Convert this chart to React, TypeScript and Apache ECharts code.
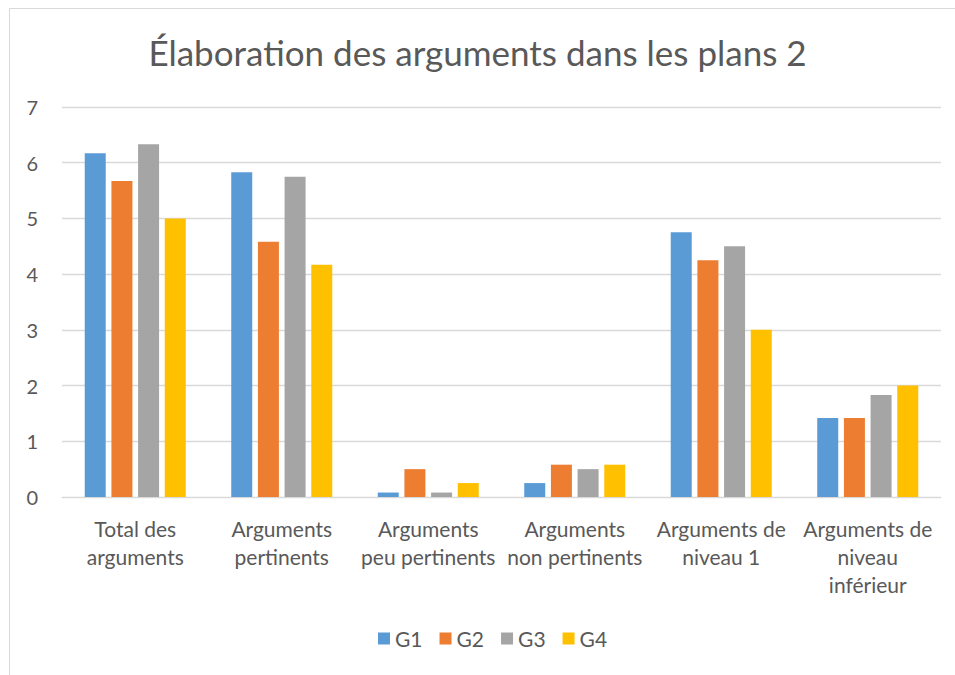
import React, { useEffect, useRef } from "react";
import * as echarts from "echarts";

const categories = [
  "Total des\narguments",
  "Arguments\npertinents",
  "Arguments\npeu pertinents",
  "Arguments\nnon pertinents",
  "Arguments de\nniveau 1",
  "Arguments de\nniveau\ninférieur",
];
const seriesNames = ["G1", "G2", "G3", "G4"];
const g1 = [6.17, 5.83, 0.08, 0.25, 4.75, 1.42];
const g2 = [5.67, 4.58, 0.5, 0.58, 4.25, 1.42];
const g3 = [6.33, 5.75, 0.08, 0.5, 4.5, 1.83];
const g4 = [5.0, 4.17, 0.25, 0.58, 3.0, 2.0];
const colors = ["#5B9BD5", "#ED7D31", "#A5A5A5", "#FFC000"];
const yTicks = [0, 1, 2, 3, 4, 5, 6, 7];

export default function App() {
  const ref = useRef<HTMLDivElement>(null);
  useEffect(() => {
    if (!ref.current) return;
    const chart = echarts.init(ref.current, null, { renderer: "svg" });
    const font = "Lato, 'Open Sans', sans-serif";
    const data = [g1, g2, g3, g4];
    chart.setOption({
      animation: false,
      backgroundColor: "#ffffff",
      color: colors,
      title: {
        text: "Élaboration des arguments dans les plans 2",
        left: "center",
        top: 29,
        textStyle: { fontFamily: font, fontSize: 35, fontWeight: "normal", color: "#595959" },
      },
      graphic: [
        {
          type: "rect",
          shape: { x: 9.5, y: 8.5, width: 1000, height: 700 },
          style: { fill: "none", stroke: "#D9D9D9", lineWidth: 1 },
          silent: true,
        },
      ],
      legend: {
        data: seriesNames,
        bottom: 21,
        left: 373,
        itemWidth: 12,
        itemHeight: 12,
        itemGap: 17,
        icon: "rect",
        textStyle: { fontFamily: font, fontSize: 21, color: "#595959", padding: [0, 0, 0, 0] },
      },
      grid: { left: 62, right: 14, top: 107, bottom: 178, containLabel: false },
      xAxis: {
        type: "category",
        data: categories,
        axisLine: { lineStyle: { color: "#D9D9D9", width: 1 } },
        axisTick: { show: false },
        axisLabel: {
          interval: 0,
          margin: 17,
          fontFamily: font,
          fontSize: 21,
          lineHeight: 28,
          color: "#595959",
        },
      },
      yAxis: {
        type: "value",
        min: yTicks[0],
        max: yTicks[yTicks.length - 1],
        interval: 1,
        axisLine: { show: false },
        axisTick: { show: false },
        splitLine: { lineStyle: { color: "#D9D9D9", width: 1.3 } },
        axisLabel: { margin: 24, fontFamily: font, fontSize: 20, color: "#595959" },
      },
      series: seriesNames.map((name, i) => ({
        name,
        type: "bar",
        data: data[i],
        barWidth: 21,
        barGap: "27%",
        itemStyle: { color: colors[i] },
      })),
    });
    return () => chart.dispose();
  }, []);
  return (
    <div
      ref={ref}
      style={{ position: "fixed", left: 0, top: 0, width: 955, height: 675 }}
    />
  );
}
